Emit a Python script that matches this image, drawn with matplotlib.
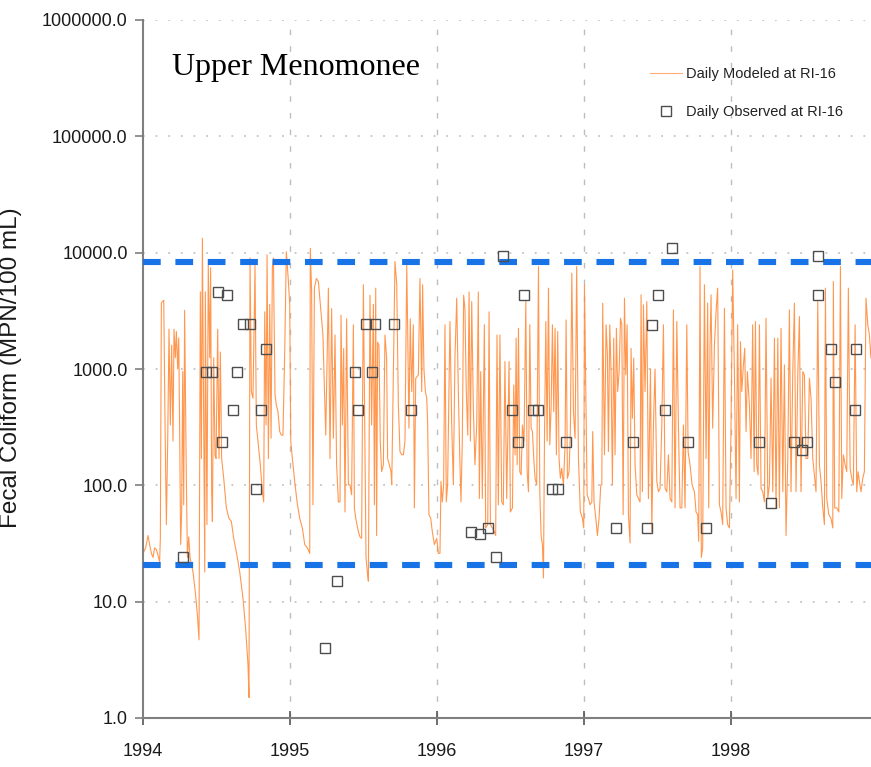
import matplotlib
matplotlib.use("Agg")
import matplotlib.pyplot as plt
from matplotlib.ticker import FixedLocator, FuncFormatter, NullLocator

# ---------------- data ----------------
model_t = [
    1994.000, 1994.018, 1994.034, 1994.045, 1994.057, 1994.068, 1994.079, 1994.091, 1994.102, 1994.113,
    1994.118, 1994.125, 1994.141, 1994.150, 1994.159, 1994.168, 1994.177, 1994.186, 1994.195, 1994.204,
    1994.211, 1994.220, 1994.227, 1994.236, 1994.243, 1994.249, 1994.256, 1994.263, 1994.270, 1994.277,
    1994.283, 1994.295, 1994.302, 1994.311, 1994.320, 1994.340, 1994.356, 1994.370, 1994.381, 1994.390,
    1994.397, 1994.404, 1994.413, 1994.420, 1994.424, 1994.435, 1994.444, 1994.454, 1994.460, 1994.467,
    1994.472, 1994.481, 1994.490, 1994.497, 1994.508, 1994.517, 1994.526, 1994.535, 1994.549, 1994.567,
    1994.585, 1994.601, 1994.617, 1994.639, 1994.658, 1994.680, 1994.698, 1994.714, 1994.721, 1994.728,
    1994.737, 1994.748, 1994.762, 1994.771, 1994.782, 1994.798, 1994.812, 1994.821, 1994.828, 1994.837,
    1994.844, 1994.853, 1994.862, 1994.871, 1994.880, 1994.887, 1994.898, 1994.907, 1994.918, 1994.930,
    1994.941, 1994.952, 1994.964, 1994.975, 1994.989, 1994.998, 1995.005, 1995.016, 1995.032, 1995.048,
    1995.066, 1995.084, 1995.100, 1995.118, 1995.134, 1995.138, 1995.147, 1995.156, 1995.166, 1995.179,
    1995.193, 1995.206, 1995.224, 1995.243,
    1995.261, 1995.272, 1995.283, 1995.295, 1995.306, 1995.317, 1995.329, 1995.340, 1995.347, 1995.356,
    1995.365, 1995.374, 1995.385, 1995.397, 1995.408, 1995.419, 1995.431, 1995.438, 1995.447, 1995.465,
    1995.476, 1995.487, 1995.499, 1995.508, 1995.517, 1995.526, 1995.533, 1995.544, 1995.555, 1995.567,
    1995.574, 1995.583, 1995.589, 1995.596, 1995.605, 1995.614, 1995.623, 1995.635, 1995.646, 1995.657,
    1995.664, 1995.676, 1995.687, 1995.692, 1995.703, 1995.714, 1995.726, 1995.737, 1995.748, 1995.760,
    1995.771, 1995.782, 1995.794, 1995.800, 1995.809, 1995.818, 1995.828, 1995.839, 1995.846, 1995.855,
    1995.873, 1995.884, 1995.896, 1995.902, 1995.911, 1995.921, 1995.930, 1995.936, 1995.945, 1995.957,
    1995.968, 1995.982, 1995.998, 1996.009, 1996.020, 1996.027, 1996.036, 1996.045, 1996.054, 1996.063,
    1996.072, 1996.088, 1996.100, 1996.111, 1996.122, 1996.134, 1996.145, 1996.156, 1996.163, 1996.172,
    1996.181, 1996.190, 1996.199, 1996.209, 1996.218, 1996.227, 1996.236, 1996.247, 1996.258, 1996.270,
    1996.281, 1996.288, 1996.297, 1996.308, 1996.322, 1996.331, 1996.345, 1996.354, 1996.363, 1996.376,
    1996.390, 1996.399, 1996.408, 1996.417, 1996.428, 1996.440, 1996.451, 1996.462, 1996.474,
    1996.490, 1996.499, 1996.513, 1996.522, 1996.531, 1996.538, 1996.545, 1996.554, 1996.563, 1996.572,
    1996.581, 1996.592, 1996.604, 1996.613, 1996.622, 1996.631, 1996.640, 1996.649, 1996.658, 1996.667,
    1996.678, 1996.690, 1996.699, 1996.708, 1996.717, 1996.724, 1996.731, 1996.740, 1996.749, 1996.758,
    1996.767, 1996.776, 1996.785, 1996.794, 1996.803, 1996.812, 1996.821, 1996.830, 1996.839, 1996.848,
    1996.860, 1996.871, 1996.878, 1996.887, 1996.898, 1996.907, 1996.917, 1996.928, 1996.939, 1996.950,
    1996.962, 1996.975, 1996.989, 1996.998, 1997.003, 1997.012, 1997.021, 1997.030, 1997.041, 1997.053,
    1997.059, 1997.068, 1997.080, 1997.091, 1997.102, 1997.114, 1997.121, 1997.127, 1997.139, 1997.150,
    1997.159, 1997.166, 1997.175, 1997.184, 1997.193, 1997.202, 1997.211, 1997.220, 1997.229, 1997.239,
    1997.248, 1997.257, 1997.266, 1997.275, 1997.284, 1997.293, 1997.302, 1997.313, 1997.320, 1997.329,
    1997.338, 1997.347, 1997.359, 1997.370, 1997.381, 1997.388, 1997.397, 1997.404, 1997.415, 1997.427,
    1997.438, 1997.452, 1997.461, 1997.472, 1997.483, 1997.495, 1997.506, 1997.517, 1997.529, 1997.540,
    1997.551, 1997.563, 1997.574, 1997.585, 1997.597, 1997.608, 1997.619, 1997.631, 1997.642, 1997.653,
    1997.665, 1997.676, 1997.687,
    1997.699, 1997.708, 1997.721, 1997.735, 1997.751, 1997.762, 1997.773, 1997.780, 1997.789, 1997.798,
    1997.807, 1997.819, 1997.830, 1997.841, 1997.848, 1997.857, 1997.864, 1997.875, 1997.887, 1997.898,
    1997.909, 1997.921, 1997.932, 1997.943, 1997.955, 1997.966, 1997.977, 1997.989, 1998.000, 1998.011,
    1998.023, 1998.034, 1998.045, 1998.057, 1998.064, 1998.073, 1998.084, 1998.093, 1998.102, 1998.111,
    1998.125, 1998.136, 1998.147, 1998.157, 1998.166, 1998.175, 1998.184, 1998.193, 1998.204, 1998.216,
    1998.227, 1998.238, 1998.250, 1998.261, 1998.272, 1998.284, 1998.295, 1998.306, 1998.318, 1998.329,
    1998.340, 1998.352, 1998.363, 1998.374, 1998.386, 1998.397, 1998.408, 1998.420, 1998.431, 1998.442,
    1998.454, 1998.465, 1998.476, 1998.488, 1998.499, 1998.510, 1998.522, 1998.533, 1998.544, 1998.556,
    1998.567, 1998.578, 1998.590, 1998.601, 1998.612, 1998.624, 1998.635, 1998.642, 1998.651, 1998.665,
    1998.680, 1998.692, 1998.696, 1998.705, 1998.719, 1998.733, 1998.744, 1998.753, 1998.764, 1998.776,
    1998.787, 1998.798, 1998.810, 1998.821, 1998.832, 1998.844, 1998.855, 1998.864, 1998.873, 1998.884,
    1998.896, 1998.907, 1998.918, 1998.930, 1998.941, 1998.952,
]
model_v = [
    26, 29, 37, 31, 26, 24, 29, 28, 25, 22,
    35, 3700, 3900, 330, 46, 240, 2200, 330, 1600, 240,
    2200, 1250, 2100, 1000, 1850, 330, 31, 59, 950, 68,
    3200, 108, 24, 36, 24, 18, 12, 7.7, 4.7, 4600,
    170, 13300, 330, 18, 4600, 46, 7800, 1250, 7400, 88,
    49, 1250, 180, 170, 2200, 170, 1400, 170, 115, 64,
    52, 49, 35, 25, 18, 10.7, 5.9, 2.9, 1.5, 9000,
    640, 560, 7800, 330, 240, 150, 88, 72, 3100, 330,
    9600, 170, 3600, 254, 7400, 9000, 600, 490, 430, 290,
    270, 270, 1400, 10200, 5650, 3600, 240, 170, 108, 72,
    52, 43, 31, 29, 26, 10900, 4600, 68, 4950, 6000,
    5650, 3600, 1960, 270,
    4950, 170, 3300, 254, 1960, 150, 72, 72, 2900, 330,
    1500, 59, 2700, 101, 101, 83, 2400, 64, 52, 40,
    36, 35, 5300, 330, 24, 18, 15, 4300, 330, 3600,
    68, 4950, 37, 1700, 1600, 240, 131, 150, 1960, 1250,
    170, 150, 131, 101, 890, 8400, 5300, 490, 195, 183,
    183, 240, 7800, 2400, 310, 2700, 640, 2400, 64, 830,
    890, 6000, 640, 5300, 1000, 640, 560, 350, 56, 52,
    40, 31, 35, 26, 26, 108, 72, 101, 2400, 72,
    101, 2560, 330, 101, 1250, 4060, 640, 150, 72, 240,
    4300, 3300, 640, 270, 4600, 240, 3800, 460, 150, 330,
    4600, 77, 950, 77, 2400, 43, 46, 3100, 46, 43,
    40, 37, 1960, 68, 1960, 72, 68, 1160, 77,
    1160, 59, 64, 730, 183, 1840, 150, 2240, 131, 123,
    330, 240, 3800, 131, 88, 2400, 310, 290, 170, 115,
    101, 7600, 88, 37, 31, 16, 254, 2560, 240, 4950,
    223, 460, 2400, 430, 2240, 183, 2100, 170, 115, 140,
    101, 223, 2640, 115, 131, 290, 6660, 430, 254, 7600,
    170, 59, 52, 43, 5300, 640, 83, 77, 68, 72,
    290, 72, 52, 37, 52, 101, 101, 3680, 183, 2400,
    1320, 195, 2400, 950, 101, 1840, 183, 2240, 640, 950,
    2730, 2400, 56, 4060, 890, 2400, 56, 32, 1500, 377,
    1240, 150, 83, 77, 72, 4340, 88, 3560, 640, 3800,
    77, 1000, 40, 330, 1000, 108, 88, 94, 330, 2400,
    94, 88, 183, 77, 72, 3220, 64, 2560, 330, 64,
    64, 330, 64,
    2400, 195, 150, 101, 88, 59, 56, 33, 7600, 24,
    29, 5300, 170, 3680, 64, 1610, 4340, 310, 1610, 3120,
    4950, 68, 59, 46, 3330, 64, 46, 43, 330, 7100,
    890, 77, 2400, 72, 1720, 640, 1085, 1510, 290, 950,
    490, 170, 2400, 131, 2560, 150, 123, 2400, 94, 88,
    72, 2730, 77, 101, 834, 88, 1840, 64, 1840, 64,
    2240, 88, 1085, 37, 170, 3220, 88, 950, 3680, 88,
    890, 2820, 88, 950, 890, 170, 170, 834, 561, 170,
    123, 88, 3800, 150, 108, 64, 46, 4950, 77, 56,
    52, 43, 5650, 64, 64, 59, 7600, 77, 183, 150,
    131, 4950, 140, 115, 101, 2400, 88, 131, 108, 88,
    115, 131, 4060, 2400, 1960, 1240,
]

obs_t = [
    1994.27, 1994.43, 1994.47, 1994.51, 1994.54, 1994.57, 1994.61, 1994.64, 1994.68, 1994.73,
    1994.77, 1994.80, 1994.84, 1995.24, 1995.32, 1995.44, 1995.46, 1995.52, 1995.56, 1995.58,
    1995.71, 1995.82, 1996.23, 1996.29, 1996.35, 1996.40, 1996.45, 1996.51, 1996.55, 1996.59,
    1996.65, 1996.69, 1996.78, 1996.82, 1996.88, 1997.22, 1997.33, 1997.43, 1997.46, 1997.50,
    1997.55, 1997.60, 1997.71, 1997.83, 1998.19, 1998.27, 1998.43, 1998.48, 1998.52, 1998.59,
    1998.59, 1998.68, 1998.71, 1998.84, 1998.85,
]
obs_v = [
    24, 940, 940, 4600, 235, 4300, 440, 940, 2450, 2450,
    93, 440, 1500, 4.0, 15, 940, 440, 2450, 940, 2450,
    2450, 440, 40, 38, 43, 24, 9300, 440, 235, 4300,
    440, 440, 93, 93, 235, 43, 235, 43, 2400, 4300,
    440, 11000, 235, 43, 235, 70, 235, 200, 235, 9300,
    4300, 1500, 770, 440, 1500,
]

thresholds = [8300, 20.5]
year_ticks = [1994, 1995, 1996, 1997, 1998]
y_ticks = [1, 10, 100, 1000, 10000, 100000, 1000000]
title_text = "Upper Menomonee"
ylabel_text = "Fecal Coliform (MPN/100 mL)"
label_model = "Daily Modeled at RI-16"
label_obs = "Daily Observed at RI-16"

# ---------------- figure ----------------
W, H = 871, 767
fig = plt.figure(figsize=(W / 100, H / 100), dpi=100)
ax = fig.add_axes([143 / W, (H - 718) / H, (W - 143) / W, (718 - 20) / H])

ax.set_yscale("log")
ax.set_ylim(1, 1e6)
ax.set_xlim(1994, 1998.952)

# grid
for yv in y_ticks:
    ax.axhline(yv, color="#C4C4C4", lw=1.3, dashes=(1, 6), zorder=0)
for xv in year_ticks[1:]:
    ax.axvline(xv, color="#BDBDBD", lw=1.0, dashes=(4, 8), zorder=0)

# modeled line
ln, = ax.plot(model_t, model_v, color="#FF8C3C", lw=0.8, alpha=0.9, zorder=2,
              label=label_model)
# threshold dashed lines
for th in thresholds:
    ax.axhline(th, color="#1874E6", lw=4.4, dashes=(2.9, 2.4), zorder=3)
# observed
mk, = ax.plot(obs_t, obs_v, ls="none", marker="s", ms=7, mfc="none",
              mec="#4D4D4D", mew=1.0, zorder=4, label=label_obs)

# spines / ticks
for s in ["top", "right"]:
    ax.spines[s].set_visible(False)
for s in ["left", "bottom"]:
    ax.spines[s].set_color("#7F7F7F")
    ax.spines[s].set_linewidth(1.5)

ax.yaxis.set_major_locator(FixedLocator(y_ticks))
ax.yaxis.set_minor_locator(NullLocator())
ax.yaxis.set_major_formatter(FuncFormatter(lambda v, p: f"{v:.1f}"))
ax.xaxis.set_major_locator(FixedLocator(year_ticks))
ax.xaxis.set_major_formatter(FuncFormatter(lambda v, p: f"{int(round(v))}"))

for lab in ax.get_yticklabels() + ax.get_xticklabels():
    lab.set_fontfamily(["Liberation Sans", "DejaVu Sans"])
    lab.set_fontsize(13)
    lab.set_color("#1a1a1a")
ax.tick_params(axis="y", direction="out", length=6, width=1.2, color="#7F7F7F", pad=5)
ax.tick_params(axis="x", direction="inout", length=10, width=1.2, color="#555555", pad=13)

ax.set_ylabel(ylabel_text, fontsize=17.5, family=["Liberation Sans", "DejaVu Sans"],
              color="#1a1a1a")
ax.yaxis.set_label_coords((22 - 143) / (W - 143), (718 - 368) / 698)

ax.text((172 - 143) / (W - 143), (718 - 75) / 698, title_text,
        transform=ax.transAxes, fontsize=23, family=["Liberation Serif", "DejaVu Serif"],
        ha="left", va="baseline", color="black")

leg = ax.legend(handles=[ln, mk], loc="upper left",
                bbox_to_anchor=((650 - 143) / (W - 143), (718 - 67) / 698),
                frameon=False, borderpad=0, borderaxespad=0, handlelength=2.2,
                handletextpad=0.3, labelspacing=1.65,
                prop=dict(family=["Liberation Sans", "DejaVu Sans"], size=10.5))
for t in leg.get_texts():
    t.set_color("#222222")
leg.get_lines()[0].set_alpha(0.7)

fig.savefig("out.png", dpi=100)
